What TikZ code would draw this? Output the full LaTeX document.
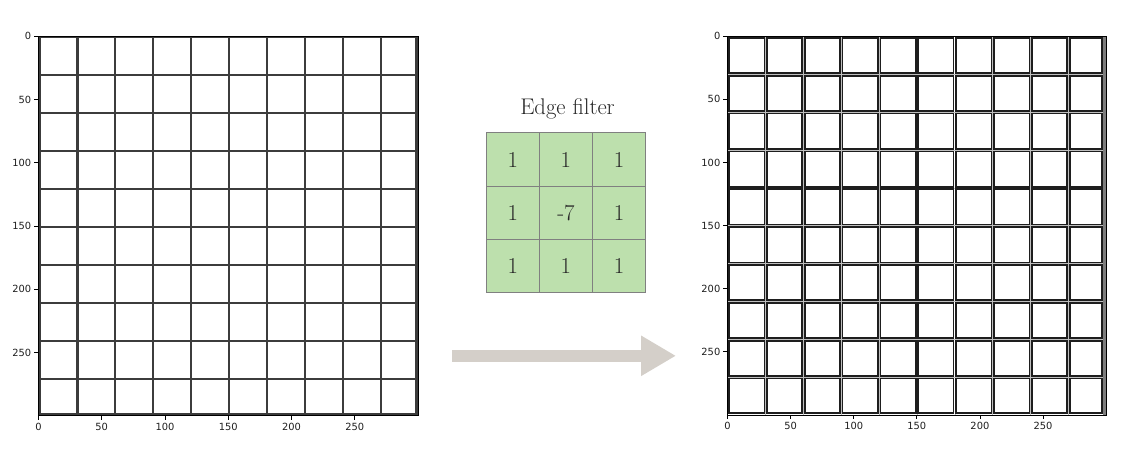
\documentclass[tikz,border=0pt]{standalone}
\usepackage{fontspec}
\usepackage{tikz}
\usetikzlibrary{arrows.meta}
\usetikzlibrary{positioning}
\newfontfamily\tickfont{DejaVu Sans}
\definecolor{gridgray}{RGB}{60, 60, 60}
\definecolor{boxdark}{RGB}{30, 30, 30}
\definecolor{midgray}{RGB}{190, 190, 190}
\definecolor{edgegray}{RGB}{125, 125, 125}
\definecolor{tickgray}{RGB}{30, 30, 30}
\definecolor{kgreen}{RGB}{189, 224, 173}
\definecolor{kborder}{RGB}{128, 128, 128}
\definecolor{arrowgray}{RGB}{212, 207, 201}

\begin{document}
\begin{tikzpicture}[x=0.75pt, y=-0.75pt,
    gridline/.style={color=gridgray, line width=1.6pt},
    cellbox/.style={draw=boxdark, line width=1.25pt},
    midline/.style={color=midgray, line width=0.6pt},
    spine/.style={color=black, line width=0.6pt},
    tickmark/.style={color=black, line width=0.6pt},
    ticklabel/.style={inner sep=0pt, text=tickgray, font=\tickfont\fontsize{7.4}{9}\selectfont},
    kcell/.style={draw=kborder, fill=kgreen, line width=0.7pt, minimum size=40pt, inner sep=0pt,
                  text=black!85, font=\fontsize{17}{20}\selectfont},
    ktitle/.style={inner sep=0pt, text=black!85, font=\fontsize{17}{20}\selectfont},
    flow/.style={color=arrowgray, line width=8.8pt, -{Triangle[length=26.25pt, width=28.5pt]}}]
            \useasboundingbox (0,0) rectangle (1148,458);
            \begin{scope}[shift={(38.5,36.3)}, scale=1.265]
                \fill[white] (0,0) rectangle (300,300);
                \foreach \p in {0,30,...,270} {
                    \draw[gridline] (\p+0.8,0) -- (\p+0.8,300);
                    \draw[gridline] (0,\p+0.8) -- (300,\p+0.8);
                }
                \draw[gridline, line width=2.4pt] (298.5,0) -- (298.5,300);
                \draw[gridline]                   (0,299.0) -- (300,299.0);
                \draw[spine] (0,0) rectangle (300,300);
                \foreach \v in {0,50,...,250} {
                    \draw[tickmark] (0,\v) -- (-3.5,\v);
                    \draw[tickmark] (\v,300) -- (\v,303.5);
                    \node[ticklabel, anchor=east]  (ly\v) at (-5.5,\v)  {\v};
                    \node[ticklabel, anchor=north] (lx\v) at (\v,305.5) {\v};
                }
            \end{scope}
            \begin{scope}[shift={(727.5,36.3)}, scale=1.262]
                \fill[white] (0,0) rectangle (300,300);
                \foreach \p in {30,60,...,270} {
                    \draw[midline] (\p+0.2,0) -- (\p+0.2,300);
                    \draw[midline] (0,\p+0.2) -- (300,\p+0.2);
                }
                \foreach \i in {0,...,9} {
                    \foreach \j in {0,...,9} {
                        \pgfmathsetmacro\xa{30*\i+1.2}
                        \pgfmathsetmacro\xb{\i==9 ? 296.5 : 30*\i+29.2}
                        \pgfmathsetmacro\ya{30*\j+1.2}
                        \pgfmathsetmacro\yb{\j==9 ? 298.3 : 30*\j+29.2}
                        \draw[cellbox] (\xa,\ya) rectangle (\xb,\yb);
                    }
                }
                \fill[edgegray] (297.4,0) rectangle (300,300);
                \draw[spine] (0,0) rectangle (300,300);
                \foreach \v in {0,50,...,250} {
                    \draw[tickmark] (0,\v) -- (-3.5,\v);
                    \draw[tickmark] (\v,300) -- (\v,303.5);
                    \node[ticklabel, anchor=east]  (ry\v) at (-5.5,\v)  {\v};
                    \node[ticklabel, anchor=north] (rx\v) at (\v,305.5) {\v};
                }
            \end{scope}
            \node[ktitle, anchor=base] (ftitle) at (567.5,114.7) {Edge filter};
            \foreach \val [count=\n from 0] in {1,1,1,1,-7,1,1,1,1} {
                \pgfmathtruncatemacro\kr{floor(\n/3)}
                \pgfmathtruncatemacro\kc{mod(\n,3)}
                \node[kcell] (k\n) at (512.7+53.2*\kc, 159.6+53.2*\kr) {\val};
            }
            \coordinate (flowtail) at (452,355.8);
            \coordinate (flowhead) at (676,355.8);
            \draw[flow] (flowtail) -- (flowhead);
        \end{tikzpicture}
\end{document}
